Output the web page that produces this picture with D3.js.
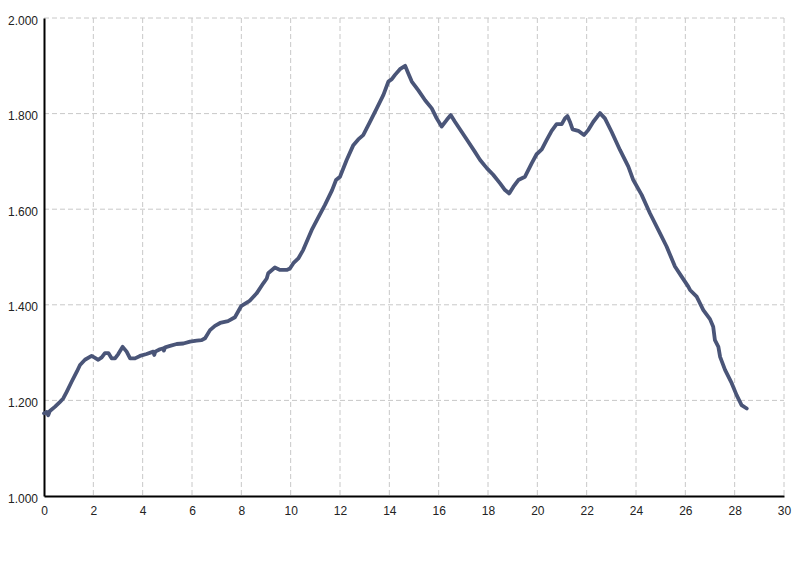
<!DOCTYPE html>
<html>
<head>
<meta charset="utf-8">
<script src="https://cdn.jsdelivr.net/npm/d3@7"></script>
<style>
html,body{margin:0;padding:0;background:#fff;}
svg{display:block;}
</style>
</head>
<body>
<svg id="chart" width="800" height="566"></svg>
<script>
const xTicks = [0,2,4,6,8,10,12,14,16,18,20,22,24,26,28,30];
const yTicks = [1.0,1.2,1.4,1.6,1.8,2.0];
const xValues = [0,0.11,0.17,0.24,0.45,0.65,0.78,0.92,1.12,1.33,1.46,1.66,1.93,2.07,2.20,2.34,2.47,2.61,2.74,2.88,3.01,3.19,3.35,3.49,3.69,3.89,4.16,4.43,4.47,4.51,4.70,4.84,4.86,4.91,5.11,5.38,5.65,5.92,6.19,6.39,6.53,6.73,6.93,7.14,7.46,7.74,7.99,8.27,8.35,8.62,8.89,9.03,9.09,9.36,9.57,9.84,9.97,10.11,10.31,10.51,10.71,10.85,11.11,11.39,11.68,11.84,12.00,12.27,12.54,12.74,12.94,13.22,13.49,13.76,13.96,14.10,14.23,14.43,14.64,14.77,14.91,15.17,15.45,15.72,15.92,16.12,16.33,16.49,16.66,16.93,17.20,17.47,17.68,17.95,18.21,18.49,18.69,18.86,19.03,19.23,19.50,19.77,19.97,20.18,20.38,20.58,20.78,20.99,21.12,21.22,21.32,21.43,21.66,21.89,22.07,22.27,22.54,22.74,23.01,23.35,23.69,23.89,24.23,24.57,24.97,25.24,25.58,25.85,26.12,26.19,26.46,26.73,27.00,27.13,27.20,27.34,27.41,27.61,27.88,28.08,28.28,28.49];
const yValues = [1.173,1.176,1.169,1.178,1.187,1.197,1.204,1.218,1.239,1.260,1.274,1.285,1.293,1.289,1.285,1.290,1.299,1.299,1.288,1.288,1.297,1.312,1.302,1.288,1.288,1.293,1.297,1.302,1.295,1.302,1.307,1.309,1.304,1.311,1.314,1.318,1.319,1.323,1.325,1.326,1.330,1.347,1.356,1.362,1.366,1.374,1.397,1.406,1.409,1.424,1.445,1.455,1.466,1.478,1.473,1.473,1.476,1.487,1.497,1.515,1.539,1.556,1.582,1.609,1.640,1.661,1.668,1.703,1.734,1.746,1.755,1.783,1.811,1.839,1.867,1.872,1.881,1.893,1.900,1.884,1.867,1.849,1.828,1.811,1.790,1.773,1.787,1.797,1.783,1.762,1.741,1.720,1.703,1.686,1.672,1.654,1.640,1.633,1.647,1.661,1.668,1.696,1.715,1.725,1.745,1.764,1.778,1.778,1.790,1.795,1.783,1.767,1.764,1.755,1.766,1.783,1.801,1.790,1.762,1.724,1.689,1.661,1.630,1.591,1.550,1.522,1.480,1.459,1.438,1.431,1.417,1.389,1.370,1.354,1.326,1.312,1.291,1.264,1.236,1.211,1.190,1.183];

const data = xValues.map((x,i)=>({x, y:yValues[i]}));
const svg = d3.select("#chart");
const pLeft = 44, pRight = 784, pTop = 18, pBottom = 496;
const x = d3.scaleLinear().domain([0,30]).range([pLeft,pRight]);
const y = d3.scaleLinear().domain([1,2]).range([pBottom,pTop]);
const font = "'Liberation Sans', Arial, sans-serif";

// grid
const g = svg.append("g");
g.selectAll("line.v").data(xTicks.filter(d=>d>0)).enter().append("line")
  .attr("x1",d=>x(d)).attr("x2",d=>x(d)).attr("y1",pTop).attr("y2",pBottom)
  .attr("stroke","#c8c8c8").attr("stroke-width",1).attr("stroke-dasharray","5,3");
g.selectAll("line.h").data(yTicks.filter(d=>d>1)).enter().append("line")
  .attr("x1",pLeft).attr("x2",pRight).attr("y1",d=>y(d)).attr("y2",d=>y(d))
  .attr("stroke","#c8c8c8").attr("stroke-width",1).attr("stroke-dasharray","5,3");

// axes
const xAxis = d3.axisBottom(x).tickValues(xTicks).tickSize(0).tickPadding(10).tickFormat(d3.format("d"));
const yAxis = d3.axisLeft(y).tickValues(yTicks).tickSize(0).tickPadding(6).tickFormat(d3.format(".3f"));
const gx = svg.append("g").attr("transform",`translate(0,${pBottom})`).call(xAxis);
const gy = svg.append("g").attr("transform",`translate(${pLeft},0)`).call(yAxis);
[gx,gy].forEach(a=>{
  a.select(".domain").attr("stroke","#000").attr("stroke-width",2);
  a.selectAll("text").attr("font-family",font).attr("font-size",12).attr("fill","#222");
});
gy.selectAll("text").attr("dy","0.5em");

// line
svg.append("path").datum(data)
  .attr("fill","none").attr("stroke","#4a5578").attr("stroke-width",3.8)
  .attr("stroke-linejoin","round").attr("stroke-linecap","round")
  .attr("d", d3.line().x(d=>x(d.x)).y(d=>y(d.y)));
</script>
</body>
</html>
